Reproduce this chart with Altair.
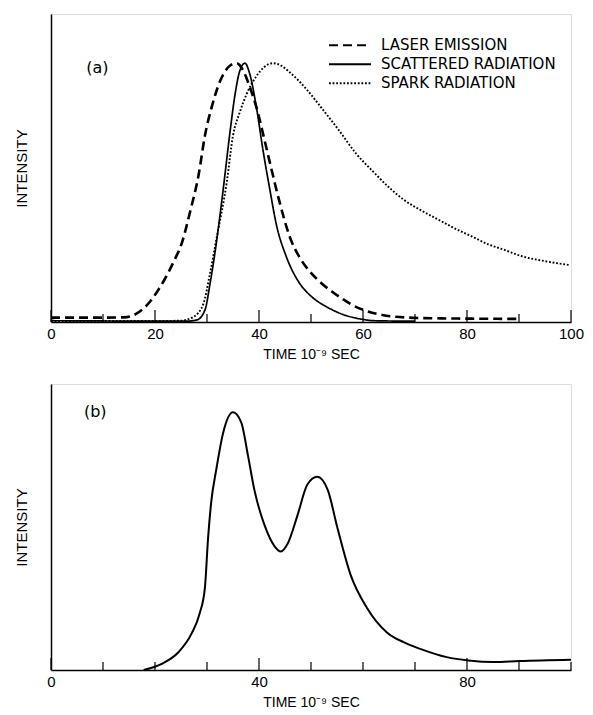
import altair as alt
import pandas as pd

FONT = "DejaVu Sans"

# ---------------- data ----------------
series_names = ["LASER EMISSION", "SCATTERED RADIATION", "SPARK RADIATION"]

laser_t = [0, 10, 14, 16.6, 19.1, 20.5, 22, 24, 24.9, 26.8, 28.4, 29.6, 30.9, 32.5,
           34.4, 35.7, 37, 38.2, 39.5, 41.1, 42.4, 44, 45.9, 48.1, 50, 52, 54, 56,
           58, 60.2, 63.7, 68.8, 75, 80, 90]
laser_i = [0.017, 0.017, 0.018, 0.034, 0.08, 0.12, 0.17, 0.25, 0.29, 0.43, 0.57, 0.72,
           0.83, 0.93, 0.99, 1.0, 0.97, 0.91, 0.83, 0.70, 0.59, 0.46, 0.33, 0.24, 0.19,
           0.15, 0.118, 0.09, 0.065, 0.046, 0.027, 0.017, 0.014, 0.013, 0.012]

scat_t = [0, 10, 20, 26, 28.05, 29.6, 30.6, 31.9, 33.1, 34.4, 35.4, 36.3, 37.3, 38.2,
          39.5, 40.8, 42.1, 43.3, 45.3, 47.8, 50, 52, 54, 56, 58, 60, 62, 70]
scat_i = [0.005, 0.004, 0.003, 0.003, 0.008, 0.046, 0.15, 0.32, 0.51, 0.73, 0.88, 0.97,
          1.0, 0.96, 0.83, 0.66, 0.51, 0.38, 0.25, 0.15, 0.10, 0.07, 0.048, 0.03,
          0.018, 0.01, 0.005, 0.003]

spark_t = [0, 10, 20, 24.9, 27.4, 29.3, 30.6, 31.9, 33.8, 35.0, 36.3, 37.6, 39.5, 41,
           42.7, 44.3, 45.9, 47.5, 49.1, 52.3, 55.4, 58.7, 62, 65, 68, 71.3, 75, 77.8, 81,
           84.1, 87, 90.4, 95, 99.8]
spark_i = [0.004, 0.004, 0.004, 0.005, 0.02, 0.07, 0.19, 0.33, 0.54, 0.72, 0.81, 0.88,
           0.95, 0.985, 1.0, 0.99, 0.965, 0.935, 0.90, 0.82, 0.74, 0.65, 0.58, 0.52, 0.47,
           0.43, 0.39, 0.36, 0.33, 0.30, 0.28, 0.255, 0.235, 0.22]

b_t = [17.8, 21.3, 24.5, 27.0, 28.6, 29.6, 30.2, 30.8, 31.8, 33.1, 35.0, 36.6, 37.9,
       39.1, 41.1, 43.0, 44.2, 45.5, 47.4, 49.3, 51.2, 53.2, 55.1, 57.6, 60.8, 64.6,
       67.8, 71, 76.1, 80.3, 85.1, 90.1, 100]
b_i = [0, 0.024, 0.069, 0.14, 0.22, 0.32, 0.51, 0.65, 0.78, 0.92, 1.0, 0.96, 0.83,
       0.70, 0.56, 0.48, 0.46, 0.49, 0.60, 0.72, 0.75, 0.70, 0.55, 0.37, 0.24, 0.146,
       0.108, 0.082, 0.05, 0.037, 0.031, 0.035, 0.04]

top_labels = [0, 20, 40, 60, 80, 100]
top_minor = [10, 30, 50, 70, 90]
bot_labels = [0, 40, 80]
bot_minor = [10, 20, 30, 50, 60, 70, 90, 100]

panel_a = ["(a)"]
panel_a_t = [8.9]
panel_a_i = [0.98]
panel_b = ["(b)"]
panel_b_t = [8.5]
panel_b_i = [1.0]

x_title = "TIME 10⁻⁹ SEC"
y_title = "INTENSITY"

# ---------------- styles ----------------
dash_range = [[9, 5], [1, 0], [1.8, 1.8]]
widths = [2.6, 1.7, 1.9]
W = 520
H1 = 308
H2 = 286

rows = []
for name, ts, vs in zip(series_names, [laser_t, scat_t, spark_t], [laser_i, scat_i, spark_i]):
    for t, v in zip(ts, vs):
        rows.append({"t": t, "I": v, "series": name})
top_df = pd.DataFrame(rows)
bot_df = pd.DataFrame({"t": b_t, "I": b_i})


def x_enc(label_values):
    return alt.X(
        "t:Q",
        scale=alt.Scale(domain=[0, 100], nice=False, zero=False),
        axis=alt.Axis(
            values=label_values, ticks=False, grid=False, labelFontSize=15,
            labelPadding=4, labelColor="black", labelFlush=False,
            title=x_title, titleFontSize=14, titlePadding=6,
            titleFontWeight="normal", titleColor="black",
            domainColor="black", domainWidth=1.5,
        ),
    )


def y_enc(top):
    return alt.Y(
        "I:Q",
        scale=alt.Scale(domain=[0, top], nice=False),
        axis=alt.Axis(
            labels=False, ticks=False, grid=False, title=y_title,
            titleFontSize=15, titlePadding=22, titleFontWeight="normal",
            titleColor="black", domainColor="black", domainWidth=1.5,
        ),
    )


def tick_layers(major, minor, xe, H):
    a = alt.Chart(pd.DataFrame({"t": major})).mark_rule(color="black", strokeWidth=1.2).encode(
        x=xe, y=alt.value(H), y2=alt.value(H - 12))
    b = alt.Chart(pd.DataFrame({"t": minor})).mark_rule(color="black", strokeWidth=1.2).encode(
        x=xe, y=alt.value(H), y2=alt.value(H - 8))
    return [a, b]


xt = x_enc(top_labels)
yt = y_enc(1.19)

dash_enc = alt.StrokeDash(
    "series:N",
    scale=alt.Scale(domain=series_names, range=dash_range),
    legend=alt.Legend(
        title=None, orient="none", legendX=277, legendY=22,
        symbolType="stroke", symbolSize=1764, symbolStrokeWidth=2,
        symbolStrokeColor="black", labelFontSize=15, labelFont=FONT,
        labelColor="black", labelOffset=9, rowPadding=0, padding=0,
        clipHeight=18.5, labelLimit=300,
    ),
)

top_layers = []
for name, w in zip(series_names, widths):
    top_layers.append(
        alt.Chart(top_df)
        .transform_filter(alt.datum.series == name)
        .mark_line(color="black", strokeWidth=w, interpolate="monotone")
        .encode(x=xt, y=yt, strokeDash=dash_enc)
    )
top_layers += tick_layers(top_labels, top_minor, xt, H1)
top_layers.append(
    alt.Chart(pd.DataFrame({"t": panel_a_t, "I": panel_a_i, "label": panel_a}))
    .mark_text(fontSize=16, font=FONT, color="black")
    .encode(x=xt, y=yt, text="label:N")
)
top = alt.layer(*top_layers).properties(width=W, height=H1)

xb = x_enc(bot_labels)
yb = y_enc(1.11)
bot_layers = [
    alt.Chart(bot_df).mark_line(color="black", strokeWidth=2, interpolate="monotone").encode(x=xb, y=yb)
]
bot_layers += tick_layers(bot_labels, bot_minor, xb, H2)
bot_layers.append(
    alt.Chart(pd.DataFrame({"t": panel_b_t, "I": panel_b_i, "label": panel_b}))
    .mark_text(fontSize=16, font=FONT, color="black")
    .encode(x=xb, y=yb, text="label:N")
)
bottom = alt.layer(*bot_layers).properties(width=W, height=H2)

chart = (
    alt.vconcat(top, bottom, spacing=21)
    .properties(padding={"left": 5, "top": 5, "right": 0, "bottom": 0})
    .configure_view(stroke=None)
    .configure_axis(labelFont=FONT, titleFont=FONT)
    .configure(background="white")
)

chart.save("out.html", embed_options={"renderer": "svg", "actions": False})
